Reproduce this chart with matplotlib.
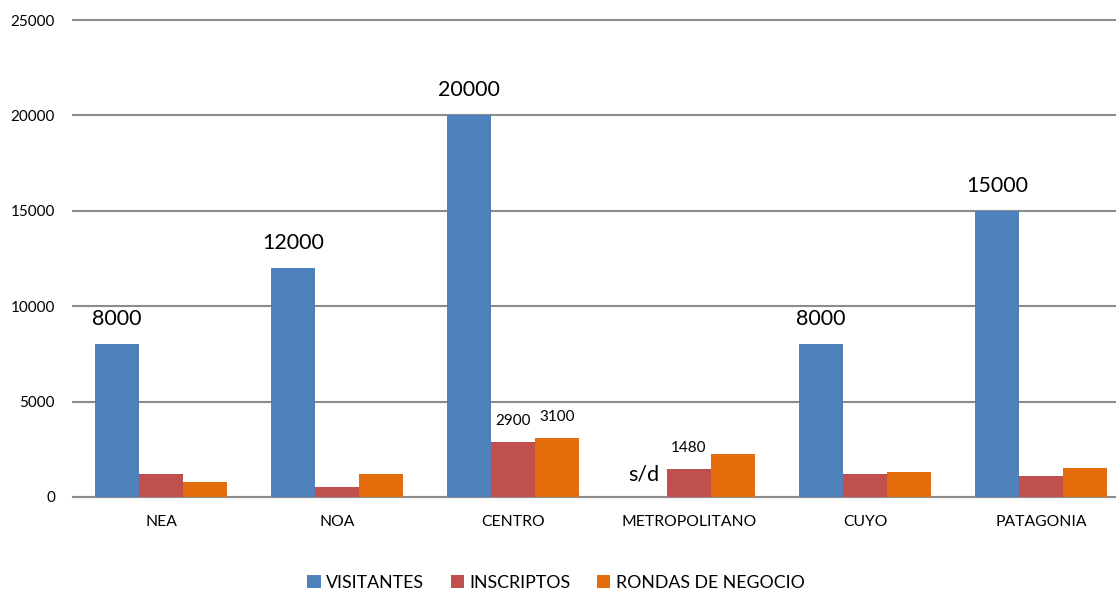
import matplotlib
matplotlib.use("Agg")
import matplotlib.pyplot as plt
import numpy as np

plt.rcParams['font.family'] = ['Lato', 'DejaVu Sans']

categories = ["NEA", "NOA", "CENTRO", "METROPOLITANO", "CUYO", "PATAGONIA"]
visitantes = [8000, 12000, 20000, 0, 8000, 15000]
inscriptos = [1200, 500, 2900, 1480, 1200, 1100]
rondas = [800, 1200, 3100, 2250, 1300, 1500]
visit_labels = ["8000", "12000", "20000", "s/d", "8000", "15000"]
small_labels = {("INSCRIPTOS", 2): "2900", ("RONDAS", 2): "3100", ("INSCRIPTOS", 3): "1480"}
series_names = ["VISITANTES", "INSCRIPTOS", "RONDAS DE NEGOCIO"]
colors = ["#4F81BD", "#C0504D", "#E46C0A"]

fig = plt.figure(figsize=(11.16, 5.91), dpi=100)
ax = fig.add_axes([73/1116, 94/591, 1056/1116, 477/591])

x = np.arange(len(categories))
w = 0.25
b1 = ax.bar(x - w, visitantes, w, color=colors[0], label=series_names[0], zorder=3)
b2 = ax.bar(x, inscriptos, w, color=colors[1], label=series_names[1], zorder=3)
b3 = ax.bar(x + w, rondas, w, color=colors[2], label=series_names[2], zorder=3)

for i, lab in enumerate(visit_labels):
    if lab == "s/d":
        ax.annotate(lab, (x[i] - w, 0), xytext=(-1, 9), textcoords="offset points",
                    ha="center", va="bottom", fontsize=15.5, color="#000000")
    else:
        ax.annotate(lab, (x[i] - w, visitantes[i]), xytext=(0, 11), textcoords="offset points",
                    ha="center", va="bottom", fontsize=15.5, color="#000000")

for (s, i), lab in small_labels.items():
    if s == "INSCRIPTOS":
        xx, yy = x[i], inscriptos[i]
    else:
        xx, yy = x[i] + w, rondas[i]
    ax.annotate(lab, (xx, yy), xytext=(0, 10), textcoords="offset points",
                ha="center", va="bottom", fontsize=11, color="#000000")

ax.set_xlim(-0.5, len(categories) - 0.5)
ax.set_ylim(0, 25000)
ax.set_yticks(np.arange(0, 25001, 5000))
ax.set_xticks(x)
ax.set_xticklabels(categories, fontsize=11.3)
ax.tick_params(axis='y', length=0, pad=13, labelsize=11)
ax.tick_params(axis='x', length=0, pad=13)
ax.yaxis.grid(True, color="#8C8C8C", linewidth=1.5, zorder=0)
ax.set_axisbelow(True)
for sp in ["top", "right", "left"]:
    ax.spines[sp].set_visible(False)
ax.spines["bottom"].set_color("#8C8C8C")
ax.spines["bottom"].set_linewidth(1.5)
for gl in ax.get_ygridlines():
    gl.set_clip_on(False)

leg = fig.legend(handles=[b1, b2, b3], labels=series_names, loc="center",
                 bbox_to_anchor=(556/1116, 1 - 583/591), ncol=3, frameon=False,
                 fontsize=12.8, handlelength=0.75, handleheight=0.75, handletextpad=0.3,
                 columnspacing=1.5)

fig.savefig("out.png", dpi=100)
